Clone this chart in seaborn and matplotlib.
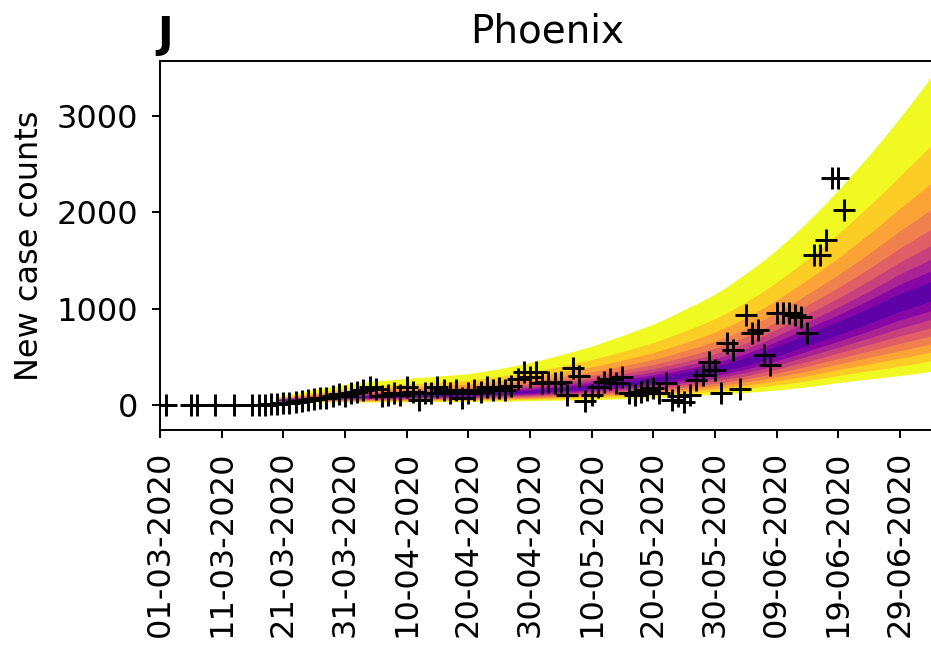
import numpy as np
import pandas as pd
import matplotlib
matplotlib.use("Agg")
import matplotlib.pyplot as plt
import seaborn as sns
from statistics import NormalDist

# ---------------- data ----------------
start_date = "2020-03-01"

obs_days = [1, 5, 6, 9, 12,
            15, 16, 17, 18, 19, 20, 21, 22, 23, 24, 25, 26, 27, 28, 29, 30,
            31, 32, 33, 34, 35, 36, 37, 38, 39, 40,
            41, 42, 43, 44, 45, 46, 47, 48, 49, 50,
            51, 52, 53, 54, 55, 56, 57, 58, 59, 60,
            61, 62, 63, 64, 65, 66, 67, 68, 69, 70,
            71, 72, 73, 74, 75, 76, 77, 78, 79, 80,
            81, 82, 83, 84, 85, 86, 87, 88, 89, 90,
            91, 92, 93, 94, 95, 96, 97, 98, 99, 100,
            101, 102, 103, 104, 105, 106, 107, 108, 109, 110, 111]
obs_cases = [0, 0, 0, 0, 0,
             0, 3, 5, 8, 12, 18, 25, 35, 45, 55, 60, 75, 70, 95, 110, 90,
             120, 140, 155, 190, 170, 90, 105, 120, 105, 185,
             140, 55, 120, 120, 190, 155, 120, 155, 70, 120,
             155, 140, 190, 155, 175, 155, 200, 275, 345, 295,
             340, 225, 240, 225, 240, 105, 380, 300, 40, 100,
             190, 240, 275, 225, 295, 120, 105, 140, 155, 175,
             120, 225, 50, 90, 35, 105, 260, 310, 450, 365,
             120, 640, 570, 165, 935, 745, 780, 520, 415, 950,
             950, 950, 930, 910, 745, 1560, 1560, 1710, 2350, 2350, 2020]

band_days = [19, 20, 25, 30, 35, 40, 45, 50, 55, 60, 65, 70, 75, 80,
             82.5, 85, 87.5, 90, 92.5, 95, 97.5, 100, 102.5, 105, 107.5,
             110, 112.5, 115, 117.5, 120, 122.5, 125, 126]
band_lower = [30, 30, 30, 30, 31, 32, 34, 36, 40, 45, 50, 57, 65, 75,
              82, 90, 100, 110, 120, 131, 143, 156, 172, 190, 211,
              233, 252, 270, 288, 306, 327, 350, 358]
band_median = [50, 55, 68, 82, 90, 95, 103, 110, 124, 140, 162, 190, 222, 260,
               284, 310, 338, 370, 407, 450, 502, 560, 620, 680, 740,
               800, 865, 930, 1000, 1070, 1125, 1180, 1200]
band_upper = [85, 100, 160, 215, 250, 275, 300, 325, 375, 440, 520, 610, 720, 840,
              910, 990, 1065, 1150, 1250, 1365, 1480, 1610, 1750, 1900, 2060,
              2230, 2410, 2590, 2780, 2980, 3185, 3395, 3480]
outer_level = 0.05
quantile_levels = [0.05, 0.10, 0.15, 0.20, 0.25, 0.30, 0.35, 0.40, 0.45]

tick_labels = ["01-03-2020", "11-03-2020", "21-03-2020", "31-03-2020",
               "10-04-2020", "20-04-2020", "30-04-2020", "10-05-2020",
               "20-05-2020", "30-05-2020", "09-06-2020", "19-06-2020",
               "29-06-2020"]
y_ticks = [0, 1000, 2000, 3000]

# ---------------- styling ----------------
sns.set_theme(style="ticks")
plt.rcParams["font.family"] = ["DejaVu Sans"]
plt.rcParams.update({
    "axes.edgecolor": "black",
    "axes.linewidth": 1.4,
    "text.color": "black",
    "axes.labelcolor": "black",
    "xtick.color": "black",
    "ytick.color": "black",
    "xtick.labelcolor": "black",
    "ytick.labelcolor": "black",
})

fig = plt.figure(figsize=(9.31, 6.47), dpi=100)
ax = fig.add_axes([160 / 931, 217 / 647, 775 / 931, 369 / 647])

t0 = pd.Timestamp(start_date)
band_dates = t0 + pd.to_timedelta(band_days, unit="D")
obs_dates = t0 + pd.to_timedelta(obs_days, unit="D")

lo = np.array(band_lower, float)
med = np.array(band_median, float)
up = np.array(band_upper, float)
z_out = NormalDist().inv_cdf(1 - outer_level)

n = len(quantile_levels)
color_pos = np.linspace(1.0, 0.17, n)
cmap = plt.get_cmap("plasma")
for q, cp in zip(quantile_levels, color_pos):
    f = NormalDist().inv_cdf(1 - q) / z_out
    upper_q = med * (up / med) ** f
    lower_q = med * (lo / med) ** f
    ax.fill_between(band_dates, lower_q, upper_q, color=cmap(cp), lw=0,
                    zorder=1, antialiased=True)

df = pd.DataFrame({"date": obs_dates, "cases": obs_cases})
sns.scatterplot(data=df, x="date", y="cases", marker="+", color="black",
                s=240, linewidth=2.1, ax=ax, zorder=5, legend=False)

ax.set_xlim(t0, t0 + pd.Timedelta(days=125.7))
ax.set_ylim(-259, 3568)

tick_dates = pd.to_datetime(tick_labels, format="%d-%m-%Y")
ax.set_xticks(tick_dates)
ax.set_xticklabels(tick_labels, rotation=90)
ax.set_yticks(y_ticks)
ax.set_yticklabels([str(v) for v in y_ticks])
ax.tick_params(axis="both", labelsize=23, length=6, width=1.4,
               color="black", labelcolor="black")
ax.tick_params(axis="x", pad=9)
ax.tick_params(axis="y", pad=10)

ax.set_xlabel("")
ax.set_ylabel("New case counts", fontsize=23, labelpad=8, color="black")
ax.set_title("Phoenix", fontsize=28, pad=13, color="black")
for s in ["left", "top", "bottom", "right"]:
    ax.spines[s].set_visible(True)
    ax.spines[s].set_color("black")
    ax.spines[s].set_linewidth(1.4)

fig.text(157 / 931, 1 - 47 / 647, "J", fontsize=30, fontweight="bold",
         ha="left", va="baseline", color="black")

fig.savefig("out.png", dpi=100)
